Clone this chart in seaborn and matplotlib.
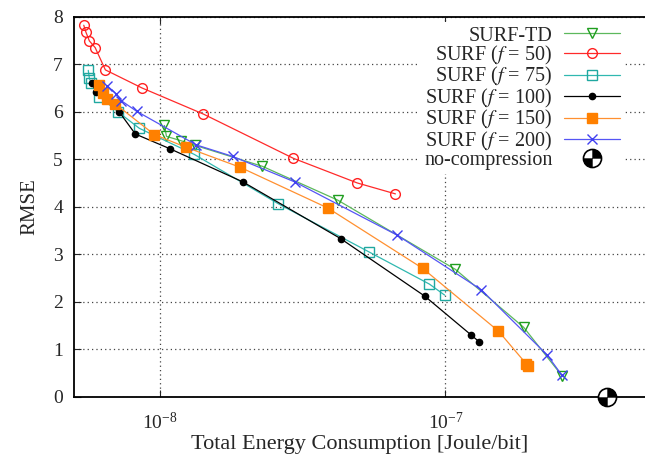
import numpy as np
import matplotlib
matplotlib.use("Agg")
import matplotlib.pyplot as plt
import seaborn as sns
from matplotlib.path import Path
from matplotlib.legend_handler import HandlerTuple
from matplotlib.ticker import NullLocator

# values (energy in Joule/bit, RMSE)
td_energy = [1.037e-8, 1.054e-8, 1.184e-8, 1.33e-8, 2.285e-8, 4.19e-8, 1.084e-7, 1.88e-7, 2.56e-7]
td_rmse = [5.71, 5.48, 5.39, 5.29, 4.85, 4.14, 2.68, 1.46, 0.44]

f50_energy = [5.41e-9, 5.5e-9, 5.66e-9, 5.93e-9, 6.44e-9, 8.65e-9, 1.42e-8, 2.93e-8, 4.91e-8, 6.68e-8]
f50_rmse = [7.82, 7.68, 7.49, 7.35, 6.88, 6.50, 5.95, 5.02, 4.50, 4.27]

f75_energy = [5.61e-9, 5.66e-9, 5.74e-9, 6.14e-9, 7.15e-9, 8.47e-9, 1.32e-8, 2.60e-8, 5.39e-8, 8.79e-8, 9.93e-8]
f75_rmse = [6.87, 6.70, 6.61, 6.32, 5.99, 5.65, 5.10, 4.06, 3.05, 2.37, 2.14]

f100_energy = [5.77e-9, 5.98e-9, 7.21e-9, 8.20e-9, 1.084e-8, 1.955e-8, 4.29e-8, 8.45e-8, 1.23e-7, 1.31e-7]
f100_rmse = [6.61, 6.41, 5.99, 5.53, 5.22, 4.52, 3.33, 2.12, 1.30, 1.16]

f150_energy = [6.10e-9, 6.31e-9, 6.53e-9, 6.95e-9, 9.55e-9, 1.236e-8, 1.91e-8, 3.88e-8, 8.33e-8, 1.534e-7, 1.92e-7, 1.94e-7]
f150_rmse = [6.57, 6.40, 6.27, 6.17, 5.52, 5.25, 4.83, 3.97, 2.70, 1.38, 0.69, 0.65]

f200_energy = [6.55e-9, 7.02e-9, 7.33e-9, 8.28e-9, 1.342e-8, 1.796e-8, 2.97e-8, 6.78e-8, 1.336e-7, 2.27e-7, 2.56e-7]
f200_rmse = [6.54, 6.38, 6.23, 6.01, 5.30, 5.06, 4.52, 3.40, 2.25, 0.88, 0.45]

nocomp_energy = [3.68e-7]
nocomp_rmse = [0.0]

sns.set_theme(style="ticks")
plt.rcParams['font.family'] = ['Liberation Serif', 'DejaVu Serif']
plt.rcParams['mathtext.fontset'] = 'stix'

fig = plt.figure(figsize=(6.45, 4.58), dpi=100)
ax = fig.add_axes([74 / 645, 1 - 396.7 / 458, 1 - 74 / 645, 380 / 458])

series = [
    (td_energy, td_rmse, "SURF-TD", "#5cb85c", "v", 7.5, "none", "#1f9e1f"),
    (f50_energy, f50_rmse, "SURF ($f$ = 50)", "#ff2a2a", "o", 7, "none", "#ff2020"),
    (f75_energy, f75_rmse, "SURF ($f$ = 75)", "#30b8b0", "s", 6.5, "none", "#20a8a0"),
    (f100_energy, f100_rmse, "SURF ($f$ = 100)", "black", "o", 4.5, "black", "black"),
    (f150_energy, f150_rmse, "SURF ($f$ = 150)", "#ff9030", "s", 7.5, "#ff8000", "#ff8000"),
    (f200_energy, f200_rmse, "SURF ($f$ = 200)", "#5555f5", "x", 7.5, "none", "#4040f0"),
]

for xs, ys, label, color, marker, ms, mfc, mec in series:
    sns.lineplot(x=xs, y=ys, ax=ax, sort=False, estimator=None, color=color,
                 linewidth=0.9, marker=marker, markersize=ms,
                 markerfacecolor=mfc, markeredgecolor=mec, markeredgewidth=1.0,
                 label=label)

# quartered circle marker for the no-compression point
ang1 = np.linspace(0, np.pi / 2, 30)
ang2 = np.linspace(np.pi, 1.5 * np.pi, 30)
verts = np.vstack([[0, 0], np.column_stack([np.cos(ang1), np.sin(ang1)]), [0, 0],
                   [0, 0], np.column_stack([np.cos(ang2), np.sin(ang2)]), [0, 0]])
codes = ([Path.MOVETO] + [Path.LINETO] * 30 + [Path.CLOSEPOLY]) * 2
quarters = Path(verts, codes)

nc_circle, = ax.plot(nocomp_energy, nocomp_rmse, ls="none", marker="o", ms=13,
                     mfc="white", mec="black", mew=1.2, clip_on=False, zorder=6)
nc_fill, = ax.plot(nocomp_energy, nocomp_rmse, ls="none", marker=quarters, ms=13,
                   mfc="black", mec="black", mew=0.3, clip_on=False, zorder=7)

ax.set_xscale("log")
ax.set_xlim(5e-9, 5e-7)
ax.set_ylim(0, 8)
ax.set_yticks(range(0, 9))
ax.xaxis.set_minor_locator(NullLocator())
ax.grid(True, which="major", linestyle=(0, (1, 2.5)), color="#444444", linewidth=0.9)
ax.tick_params(direction="in", top=True, right=False, length=5, width=0.8,
               labelsize=14, pad=8)
ax.tick_params(axis="x", pad=11)
for sp in ax.spines.values():
    sp.set_linewidth(1.3)
    sp.set_color("black")
ax.spines["right"].set_visible(False)

ax.set_xlabel("Total Energy Consumption [Joule/bit]", fontsize=16)
ax.xaxis.set_label_coords(0.5, -0.1)
ax.set_ylabel("RMSE", fontsize=15, labelpad=10)

handles, labels = ax.get_legend_handles_labels()
handles.append((nc_circle, nc_fill))
labels.append("no-compression")
ax.legend(handles, labels, loc="upper right", bbox_to_anchor=(0.963, 0.985),
          markerfirst=False, handlelength=2.75, handletextpad=0.6,
          labelspacing=-0.08, borderpad=0.2, borderaxespad=0, frameon=True,
          fancybox=False, edgecolor="none", facecolor="white", framealpha=1,
          fontsize=14.5, numpoints=1,
          handler_map={tuple: HandlerTuple(ndivide=1, pad=0)})

fig.savefig("out.png", dpi=100)
